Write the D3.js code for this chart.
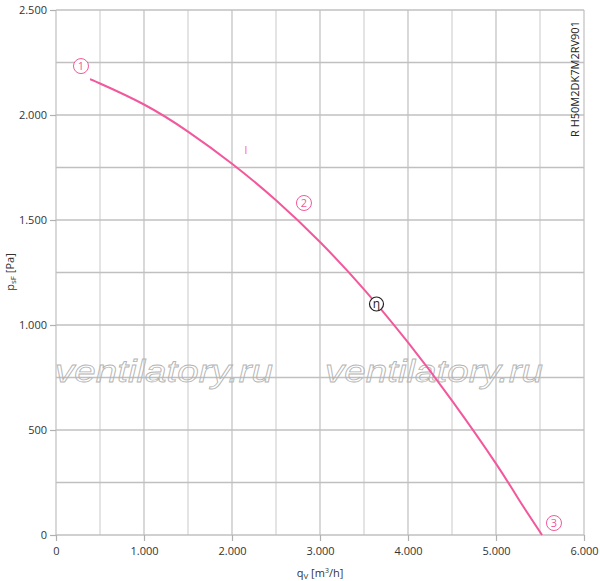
<!DOCTYPE html>
<html>
<head>
<meta charset="utf-8">
<script src="https://cdn.jsdelivr.net/npm/d3@7"></script>
<style>
  body { margin: 0; background: #fff; }
  svg { display: block; font-family: "Open Sans", sans-serif; }
</style>
</head>
<body>
<div id="chart"></div>
<script>
// fan curve: volume flow [m3/h] vs static pressure [Pa]
const flow = [386, 500, 1000, 1500, 2000, 2500, 3000, 3500, 4000, 4500, 5000, 5250, 5523]
const pressure = [2170, 2150, 2050, 1921, 1768, 1594, 1395, 1170, 917, 640, 340, 175, 0]

const xTicks = [0, 1000, 2000, 3000, 4000, 5000, 6000]
const yTicks = [0, 500, 1000, 1500, 2000, 2500]
const xGrid = [0, 500, 1000, 1500, 2000, 2500, 3000, 3500, 4000, 4500, 5000, 5500, 6000]
const yGrid = [0, 250, 500, 750, 1000, 1250, 1500, 1750, 2000, 2250, 2500]

// operating point labels [flow, pressure, text]
const markers = [[284, 2233, '1'], [2818, 1581, '2'], [5659, 57, '3']]
const etaPoint = [3642, 1100]
const stepMark = [2159, 1833]

const width = 600
const height = 581
const margin = { left: 56, right: 16, top: 10, bottom: 46 }
const pink = '#f2589b'

const fmt = d => d3.format(',')(d).replace(/,/g, '.')

const svg = d3.select('#chart')
  .append('svg')
  .attr('width', width)
  .attr('height', height)

const xScale = d3.scaleLinear()
  .domain([0, 6000])
  .range([margin.left, width - margin.right])

const yScale = d3.scaleLinear()
  .domain([0, 2500])
  .range([height - margin.bottom, margin.top])

// grid
svg.append('g')
  .selectAll('line')
  .data(xGrid)
  .enter()
  .append('line')
  .attr('x1', d => xScale(d))
  .attr('x2', d => xScale(d))
  .attr('y1', yScale(0))
  .attr('y2', yScale(2500))
  .attr('stroke', d => d % 1000 === 0 ? '#c4c4c4' : '#d6d6d6')
  .attr('stroke-width', 1.3)

svg.append('g')
  .selectAll('line')
  .data(yGrid)
  .enter()
  .append('line')
  .attr('x1', xScale(0))
  .attr('x2', xScale(6000))
  .attr('y1', d => yScale(d))
  .attr('y2', d => yScale(d))
  .attr('stroke', '#c0c0c0')
  .attr('stroke-width', 1.5)

// axes
const xAxis = d3.axisBottom(xScale)
  .tickValues(xTicks)
  .tickFormat(fmt)
  .tickSize(6)
  .tickPadding(6)
const gx = svg.append('g')
  .attr('transform', 'translate(0,' + yScale(0) + ')')
  .call(xAxis)

const yAxis = d3.axisLeft(yScale)
  .tickValues(yTicks)
  .tickFormat(fmt)
  .tickSize(6)
  .tickPadding(3)
const gy = svg.append('g')
  .attr('transform', 'translate(' + xScale(0) + ',0)')
  .call(yAxis)

for (const g of [gx, gy]) {
  g.select('.domain').remove()
  g.selectAll('.tick line').attr('stroke', '#b0b0b0').attr('stroke-width', 1.2)
  g.selectAll('.tick text')
    .attr('fill', '#333')
    .style('font-size', '11px')
    .style('font-family', '"Open Sans", sans-serif')
}

// watermark
const marks = [164, 434]
svg.append('g')
  .selectAll('text')
  .data(marks)
  .enter()
  .append('text')
  .attr('x', d => d)
  .attr('y', 382)
  .attr('text-anchor', 'middle')
  .attr('textLength', 218)
  .attr('lengthAdjust', 'spacingAndGlyphs')
  .style('font-family', '"Liberation Sans", sans-serif')
  .style('font-style', 'italic')
  .style('font-size', '32px')
  .attr('fill', 'none')
  .attr('stroke', '#b4b4b4')
  .attr('stroke-width', 0.8)
  .text('ventilatory.ru')

// curve
const line = d3.line()
  .x((d, i) => xScale(flow[i]))
  .y(d => yScale(d))
  .curve(d3.curveNatural)

svg.append('path')
  .datum(pressure)
  .attr('d', line)
  .attr('fill', 'none')
  .attr('stroke', pink)
  .attr('stroke-width', 2)

// numbered markers
const mk = svg.append('g')
  .selectAll('g')
  .data(markers)
  .enter()
  .append('g')
  .attr('transform', d => 'translate(' + xScale(d[0]) + ',' + yScale(d[1]) + ')')
mk.append('circle')
  .attr('r', 7.5)
  .attr('fill', '#fff')
  .attr('stroke', pink)
  .attr('stroke-width', 1)
mk.append('text')
  .attr('text-anchor', 'middle')
  .attr('dy', '0.36em')
  .attr('fill', pink)
  .style('font-size', '11px')
  .text(d => d[2])

svg.append('text')
  .attr('x', xScale(stepMark[0]))
  .attr('y', yScale(stepMark[1]))
  .attr('text-anchor', 'middle')
  .attr('dy', '0.36em')
  .attr('fill', pink)
  .style('font-size', '10px')
  .text('I')

// efficiency point
const eta = svg.append('g')
  .attr('transform', 'translate(' + xScale(etaPoint[0]) + ',' + yScale(etaPoint[1]) + ')')
eta.append('circle')
  .attr('r', 7)
  .attr('fill', '#fff')
  .attr('stroke', '#222')
  .attr('stroke-width', 1.2)
eta.append('text')
  .attr('text-anchor', 'middle')
  .attr('dy', '0.3em')
  .attr('fill', '#222')
  .style('font-size', '12px')
  .text('η')

// axis titles
const xt = svg.append('text')
  .attr('x', 320)
  .attr('y', 577)
  .attr('text-anchor', 'middle')
  .attr('fill', '#333')
  .style('font-size', '11px')
xt.append('tspan').text('q')
xt.append('tspan').attr('dy', 2).style('font-size', '8px').text('V')
xt.append('tspan').attr('dy', -2).text(' [m')
xt.append('tspan').attr('dy', -4).style('font-size', '7px').text('3')
xt.append('tspan').attr('dy', 4).text('/h]')

const yt = svg.append('text')
  .attr('transform', 'translate(14,272) rotate(-90)')
  .attr('text-anchor', 'middle')
  .attr('fill', '#333')
  .style('font-size', '11px')
yt.append('tspan').text('p')
yt.append('tspan').attr('dy', 2).style('font-size', '8px').text('sF')
yt.append('tspan').attr('dy', -2).text(' [Pa]')

svg.append('text')
  .attr('transform', 'translate(579,137) rotate(-90)')
  .attr('fill', '#222')
  .style('font-size', '11px')
  .text('R H50M2DK7M2RV901')
</script>
</body>
</html>
